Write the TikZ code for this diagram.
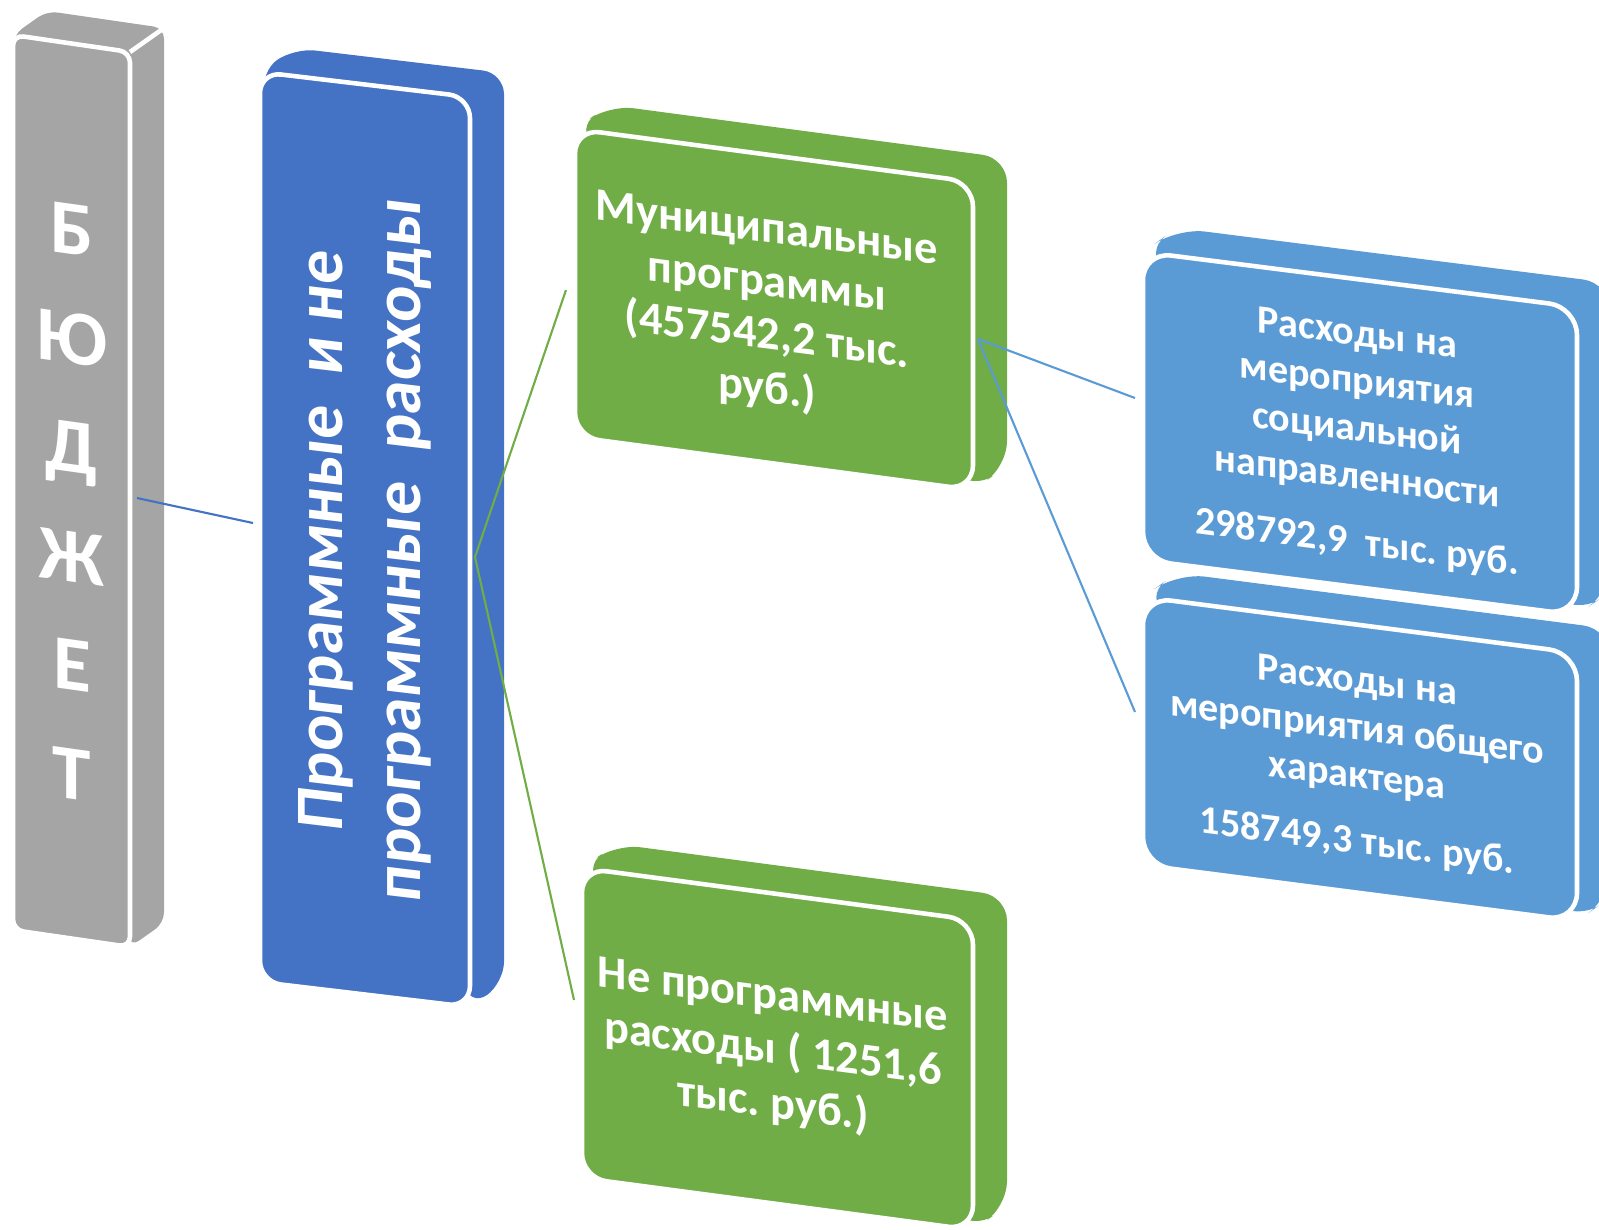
\documentclass[tikz,border=0pt]{standalone}
\usepackage{fontspec}
\setmainfont{Carlito}
\frenchspacing
\definecolor{budgetgray}{HTML}{A5A5A5}
\definecolor{mainblue}{HTML}{4472C4}
\definecolor{leafgreen}{HTML}{70AD47}
\definecolor{skyblue}{HTML}{5B9BD5}
\tikzset{
  boxtext/.style={text=white, align=center, inner sep=0pt},
  link/.style={line width=0.6pt},
}
\begin{document}
\begin{tikzpicture}[x=0.01cm, y=-0.01cm]
  \pgfmathsetmacro{\dpx}{34}
  \pgfmathsetmacro{\dpy}{-24}
  \useasboundingbox (0,0) rectangle (1599,1229);
  \clip (0,0) rectangle (1599,1229);
  \foreach \col/\xl/\xr/\yl/\yr/\h/\rad in {budgetgray/13/130/35/52/895/3pt, mainblue/260/470/72/97/910/6pt, leafgreen/575/973/129/182/308/7pt, leafgreen/582/973/868/920/310/7pt, skyblue/1143/1577/252/307/308/8pt, skyblue/1143/1577/597/653/268/8pt}
  {
    \fill[fill=\col, rounded corners=\rad] (\xl,\yl) -- ({\xl+\dpx},{\yl+\dpy}) -- ({\xr+\dpx},{\yr+\dpy}) -- ({\xr+\dpx},{\yr+\h+\dpy}) -- (\xr,{\yr+\h}) -- cycle;
    \filldraw[fill=\col, draw=white, line width=1.3pt, rounded corners=\rad] (\xl,\yl) -- (\xr,\yr) -- (\xr,{\yr+\h}) -- (\xl,{\yl+\h}) -- cycle;
  }
  \draw[white, line width=1.3pt] (130,52) -- ++(\dpx,\dpy);

  \node[boxtext, font=\bfseries\fontsize{22}{31}\selectfont, yslant=-0.14] (budget) at (72,502) {Б\\Ю\\Д\\Ж\\Е\\Т};
  \node[boxtext, font=\bfseries\fontsize{19.3}{22}\selectfont, yslant=-0.12, rotate=90] (progs) at (365,545) {Программные~ и не\\программные~ расходы};
  \node[boxtext, font=\bfseries\fontsize{13.2}{15.2}\selectfont, yslant=-0.13] (mun) at (767,311) {Муниципальные\\программы\\(457542,2 тыс.\\руб.)};
  \node[boxtext, font=\bfseries\fontsize{13.2}{15.4}\selectfont, yslant=-0.13] (nonprog) at (773,1052) {Не программные\\расходы ( 1251,6\\тыс. руб.)};
  \node[boxtext, font=\bfseries\fontsize{11.4}{13.6}\selectfont, yslant=-0.13] (soc) at (1357,440) {Расходы на\\мероприятия\\социальной\\направленности\\[5pt]298792,9~ тыс. руб.};
  \node[boxtext, font=\bfseries\fontsize{11.4}{13.6}\selectfont, yslant=-0.13] (gen) at (1357,763) {Расходы на\\мероприятия общего\\характера\\[5pt]158749,3 тыс. руб.};

  \coordinate (bud) at (137,498);
  \coordinate (prin) at (253,523);
  \coordinate (prout) at (475,557);
  \coordinate (munin) at (566,290);
  \coordinate (nonin) at (574,1000);
  \coordinate (munout) at (978,339);
  \coordinate (socin) at (1135,398);
  \coordinate (genin) at (1135,712);
  \draw[link, mainblue] (bud) -- (prin);
  \draw[link, leafgreen] (prout) -- (munin);
  \draw[link, leafgreen] (prout) -- (nonin);
  \draw[link, skyblue] (munout) -- (socin);
  \draw[link, skyblue] (munout) -- (genin);
\end{tikzpicture}
\end{document}
